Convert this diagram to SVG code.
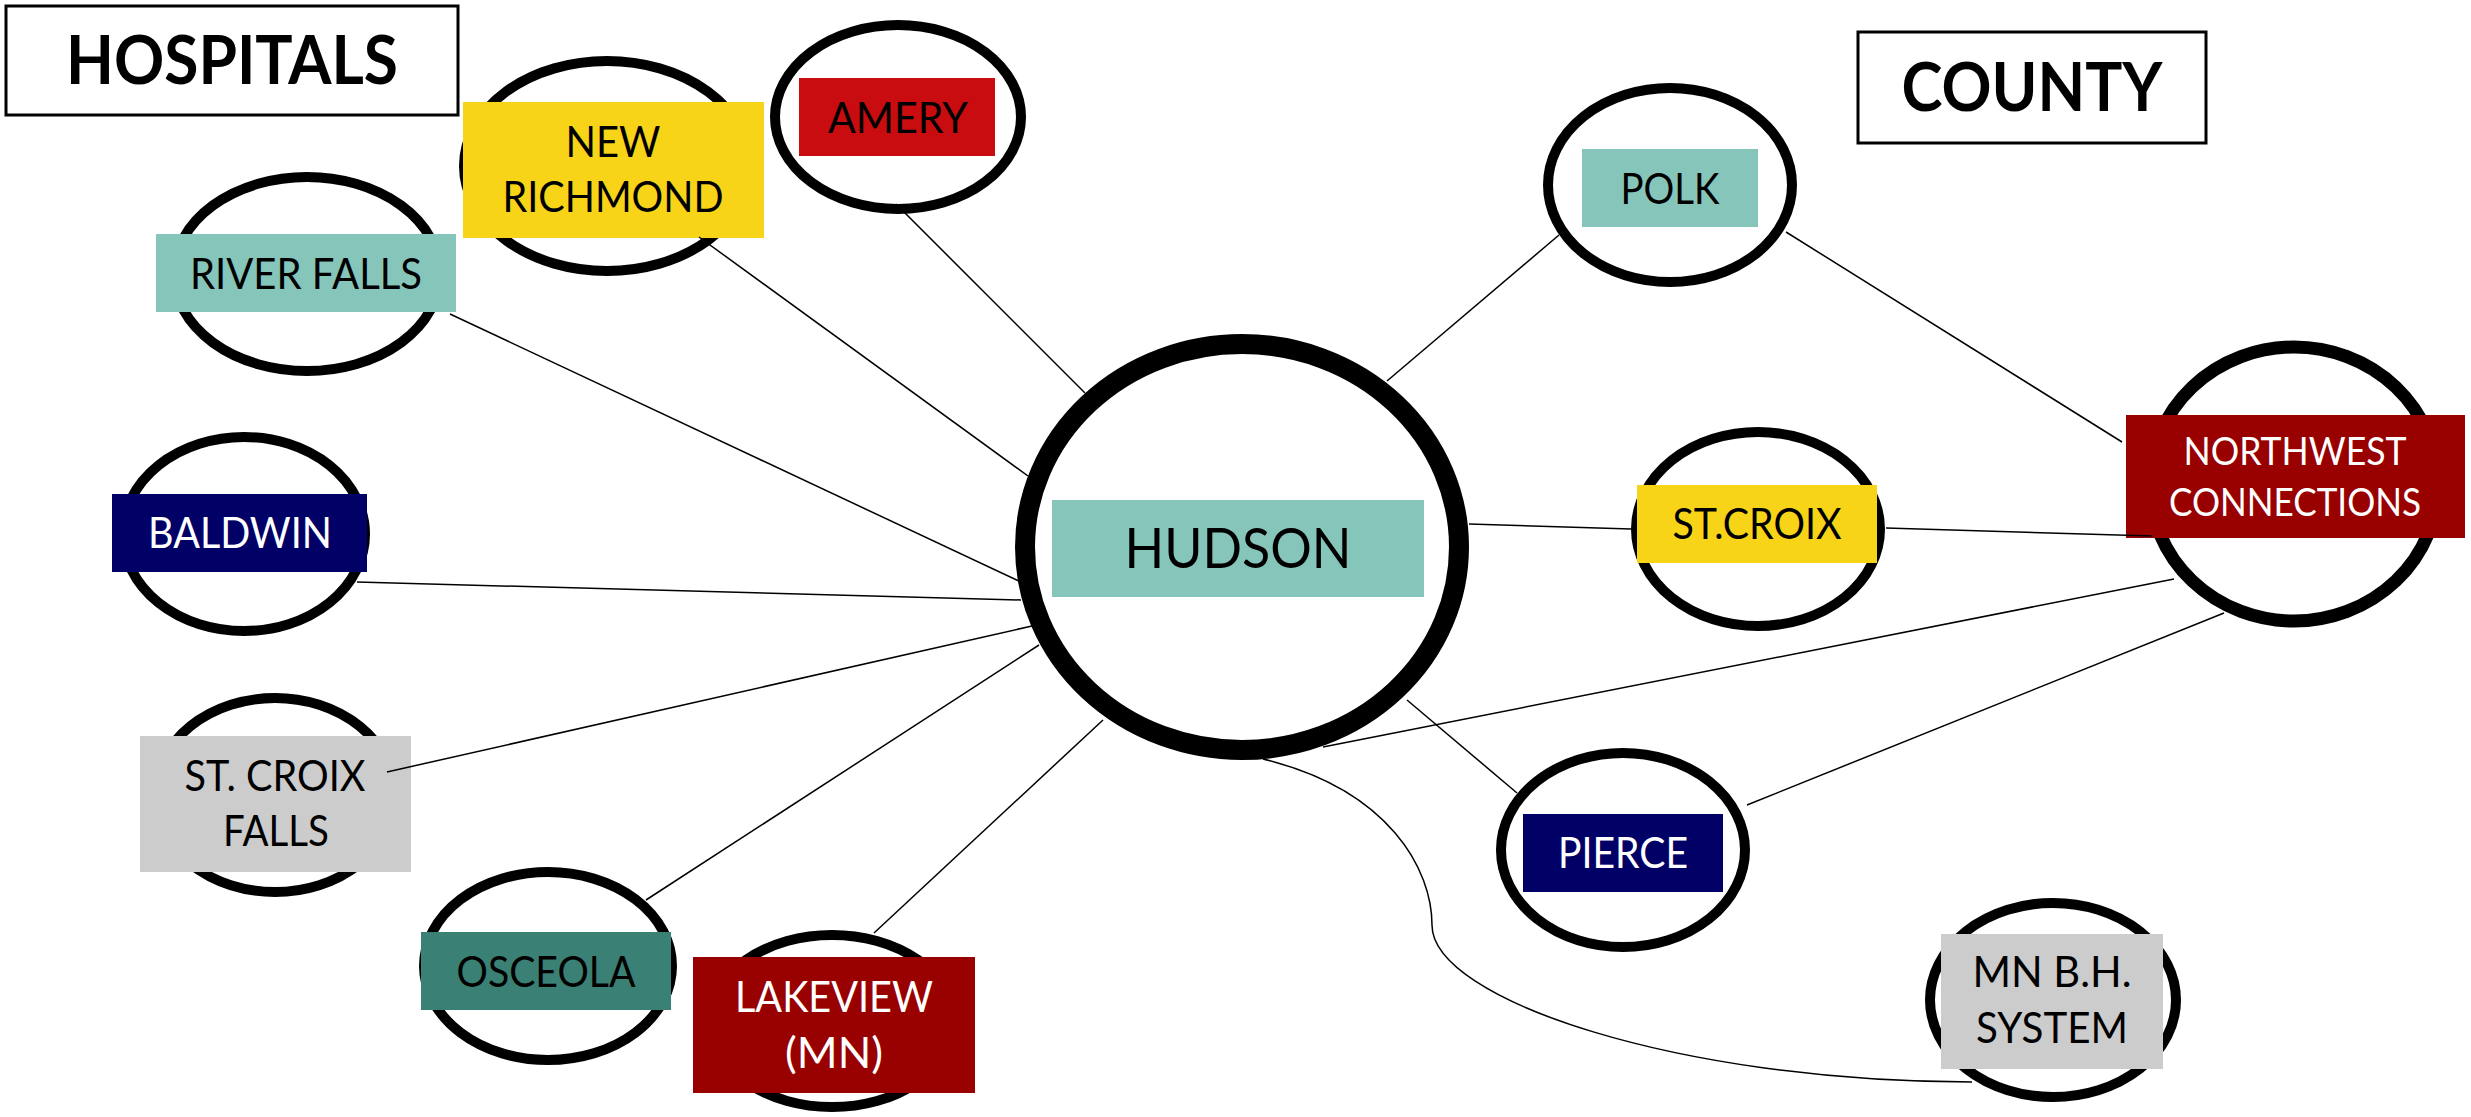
<svg xmlns="http://www.w3.org/2000/svg" width="2471" height="1117" viewBox="0 0 2471 1117">
<style>
.ring{fill:#fff;stroke:#000;stroke-width:10}
.lbl{font-family:Lato,"Liberation Sans",sans-serif;font-size:42px;text-anchor:middle}
.dark{fill:#000}
.light{fill:#fff}
.title{font-family:Lato,"Liberation Sans",sans-serif;font-weight:bold;font-size:66px;text-anchor:middle;fill:#000}
.tbox{fill:#fff;stroke:#000;stroke-width:3}
.conn line,.conn path{stroke:#000;stroke-width:1.5;fill:none}
</style>
<rect width="2471" height="1117" fill="#fff"/>
<g id="title-hospitals">
<rect class="tbox" x="6" y="6" width="452" height="109"/>
<text class="title" x="232" y="84" textLength="332" lengthAdjust="spacingAndGlyphs">HOSPITALS</text>
</g>
<g id="title-county">
<rect class="tbox" x="1858" y="32" width="348" height="111"/>
<text class="title" x="2032" y="111" textLength="261" lengthAdjust="spacingAndGlyphs">COUNTY</text>
</g>
<g id="node-new-richmond">
<ellipse class="ring" cx="607" cy="166" rx="143" ry="105"/>
<rect x="463" y="102" width="301" height="136" fill="#F7D418"/>
<text class="lbl dark" x="613" y="157" textLength="95" lengthAdjust="spacingAndGlyphs">NEW</text>
<text class="lbl dark" x="613" y="212" textLength="221" lengthAdjust="spacingAndGlyphs">RICHMOND</text>
</g>
<g id="node-amery">
<ellipse class="ring" cx="898" cy="117" rx="123" ry="92"/>
<rect x="799" y="78" width="196" height="78" fill="#C80C0F"/>
<text class="lbl dark" x="898" y="133" textLength="140" lengthAdjust="spacingAndGlyphs">AMERY</text>
</g>
<g id="node-river-falls">
<ellipse class="ring" cx="307" cy="274" rx="133" ry="97"/>
<rect x="156" y="234" width="300" height="78" fill="#86C5BA"/>
<text class="lbl dark" x="306" y="289" textLength="232" lengthAdjust="spacingAndGlyphs">RIVER FALLS</text>
</g>
<g id="node-baldwin">
<ellipse class="ring" cx="244" cy="534" rx="121" ry="97"/>
<rect x="112" y="494" width="255" height="78" fill="#000066"/>
<text class="lbl light" x="240" y="548" textLength="184" lengthAdjust="spacingAndGlyphs">BALDWIN</text>
</g>
<g id="node-st-croix-falls">
<ellipse class="ring" cx="275" cy="795" rx="120" ry="97"/>
<rect x="140" y="736" width="271" height="136" fill="#CCCCCC"/>
<text class="lbl dark" x="275" y="791" textLength="181" lengthAdjust="spacingAndGlyphs">ST. CROIX</text>
<text class="lbl dark" x="276" y="846" textLength="106" lengthAdjust="spacingAndGlyphs">FALLS</text>
</g>
<g id="node-osceola">
<ellipse class="ring" cx="548" cy="966" rx="124" ry="94"/>
<rect x="421" y="932" width="250" height="78" fill="#3A8074"/>
<text class="lbl dark" x="546" y="987" textLength="179" lengthAdjust="spacingAndGlyphs">OSCEOLA</text>
</g>
<g id="node-lakeview">
<ellipse class="ring" cx="832" cy="1021" rx="122" ry="86"/>
<rect x="693" y="957" width="282" height="136" fill="#990000"/>
<text class="lbl light" x="834" y="1012" textLength="198" lengthAdjust="spacingAndGlyphs">LAKEVIEW</text>
<text class="lbl light" x="834" y="1068" textLength="98" lengthAdjust="spacingAndGlyphs">(MN)</text>
</g>
<g id="node-hudson">
<ellipse cx="1242" cy="547" rx="217" ry="203" fill="#fff" stroke="#000" stroke-width="20"/>
<rect x="1052" y="500" width="372" height="97" fill="#86C5BA"/>
<text class="lbl dark" x="1238" y="568" style="font-size:57px" textLength="227" lengthAdjust="spacingAndGlyphs">HUDSON</text>
</g>
<g id="node-polk">
<ellipse class="ring" cx="1670" cy="185" rx="122" ry="97"/>
<rect x="1582" y="149" width="176" height="78" fill="#86C5BA"/>
<text class="lbl dark" x="1670" y="204" textLength="99" lengthAdjust="spacingAndGlyphs">POLK</text>
</g>
<g id="node-st-croix">
<ellipse class="ring" cx="1758" cy="529" rx="122" ry="97"/>
<rect x="1637" y="485" width="240" height="78" fill="#F7D418"/>
<text class="lbl dark" x="1757" y="539" textLength="169" lengthAdjust="spacingAndGlyphs">ST.CROIX</text>
</g>
<g id="node-northwest-connections">
<ellipse cx="2294" cy="484" rx="144" ry="137" fill="#fff" stroke="#000" stroke-width="13"/>
<rect x="2126" y="415" width="339" height="123" fill="#990000"/>
<text class="lbl light" x="2295" y="465" style="font-size:38px" textLength="223" lengthAdjust="spacingAndGlyphs">NORTHWEST</text>
<text class="lbl light" x="2295" y="516" style="font-size:38px" textLength="252" lengthAdjust="spacingAndGlyphs">CONNECTIONS</text>
</g>
<g id="node-pierce">
<ellipse class="ring" cx="1623" cy="850" rx="122" ry="97"/>
<rect x="1523" y="814" width="200" height="78" fill="#000066"/>
<text class="lbl light" x="1623" y="868" textLength="130" lengthAdjust="spacingAndGlyphs">PIERCE</text>
</g>
<g id="node-mn-bh-system">
<ellipse class="ring" cx="2053" cy="1000" rx="123" ry="97"/>
<rect x="1941" y="934" width="222" height="135" fill="#CCCCCC"/>
<text class="lbl dark" x="2052" y="987" textLength="159" lengthAdjust="spacingAndGlyphs">MN B.H.</text>
<text class="lbl dark" x="2052" y="1043" textLength="152" lengthAdjust="spacingAndGlyphs">SYSTEM</text>
</g>
<g id="connectors" class="conn">
<line x1="699" y1="237" x2="1028" y2="476"/>
<line x1="896" y1="204" x2="1085" y2="393"/>
<line x1="450" y1="314" x2="1021" y2="582"/>
<line x1="357" y1="582" x2="1021" y2="600"/>
<line x1="387" y1="772" x2="1032" y2="626"/>
<line x1="646" y1="900" x2="1039" y2="645"/>
<line x1="874" y1="933" x2="1103" y2="720"/>
<line x1="1387" y1="381" x2="1559" y2="235"/>
<line x1="1469" y1="524" x2="1631" y2="529"/>
<line x1="1786" y1="232" x2="2122" y2="442"/>
<line x1="1886" y1="528" x2="2152" y2="536"/>
<line x1="1407" y1="700" x2="1517" y2="793"/>
<line x1="1323" y1="747" x2="2174" y2="579"/>
<line x1="1747" y1="805" x2="2224" y2="613"/>
<path d="M1263,759 C1390,790 1432,870 1432,925 C1432,1000 1680,1082 1972,1082"/>
</g>
</svg>
